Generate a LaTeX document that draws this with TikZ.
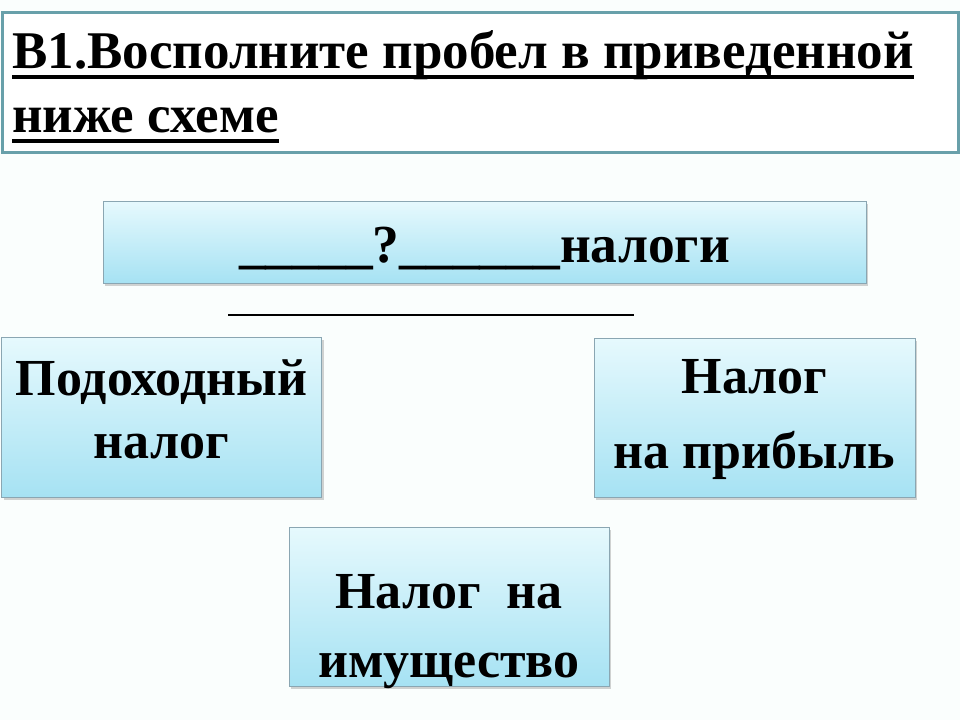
\documentclass[tikz,border=0pt]{standalone}
\usepackage{fontspec}
\setmainfont{Liberation Serif}
\usetikzlibrary{positioning,shadows}
\definecolor{frame}{HTML}{68A0AA}
\definecolor{boxline}{HTML}{8AA6B2}
\definecolor{skytop}{HTML}{E6F9FD}
\definecolor{skybot}{HTML}{A6E2F3}
\definecolor{paper}{HTML}{FAFEFD}
\newcommand{\titleline}[1]{\setbox0\hbox{#1}\rlap{\rule[-11pt]{\wd0}{4.5pt}}\box0}
\tikzset{
  taxbox/.style={draw=boxline,line width=0.9pt,top color=skytop,bottom color=skybot,
    drop shadow={shadow xshift=2pt,shadow yshift=-3pt,opacity=.35},
    align=center,inner sep=0pt,text depth=0pt,font=\fontsize{52}{#1}\selectfont\bfseries},
  taxbox/.default=63
}

\begin{document}
\begin{tikzpicture}[x=1pt,y=-1pt]
\useasboundingbox[fill=paper] (0,0) rectangle (960,720);
\draw[frame,line width=3pt,fill=white] (2,12) rectangle (958,152);
\node[anchor=base west,inner sep=0pt,align=left,font=\fontsize{53}{64}\selectfont\bfseries] (task) at (12,132)
  {\titleline{В1.Восполните пробел в приведенной}\\\titleline{ниже схеме}};
\node[taxbox,font=\fontsize{53.5}{63}\selectfont\bfseries,text height=40pt,minimum width=763pt,minimum height=82pt] (kind) at (484.5,242) {\_\_\_\_\_?\_\_\_\_\_\_налоги};
\coordinate (blankL) at (228,315);
\coordinate (blankR) at (634,315);
\draw[line width=1.2pt] (blankL) -- (blankR);
\node[taxbox=63,text height=82pt,minimum width=320pt,minimum height=160pt] (income) at (161.5,417) {Подоходный\\налог};
\node[taxbox=75,text height=101pt,minimum width=321pt,minimum height=159pt] (profit) at (754.5,417.5) {Налог\\на прибыль};
\node[taxbox=69,text height=141pt,minimum width=320pt,minimum height=159pt] (property) at (449,606.5) {Налог~ на\\имущество};
\end{tikzpicture}
\end{document}
